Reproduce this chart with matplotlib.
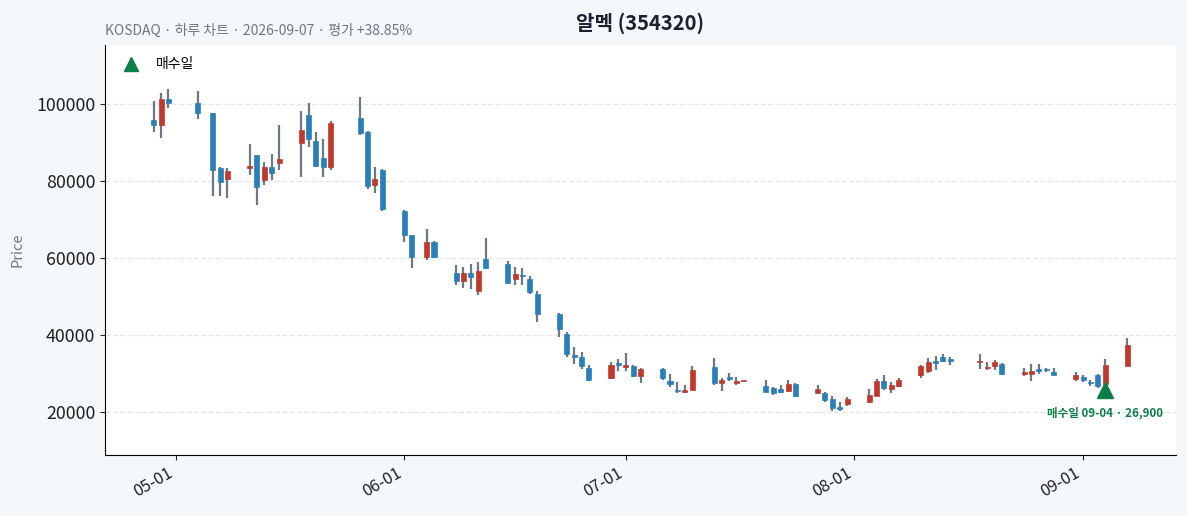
import matplotlib
matplotlib.use("Agg")
import matplotlib.pyplot as plt
import matplotlib.dates as mdates
from matplotlib.lines import Line2D
import numpy as np
import pandas as pd

plt.rcParams['font.family'] = ['Noto Sans CJK KR', 'DejaVu Sans']

dates = ["2026-04-28", "2026-04-29", "2026-04-30", "2026-05-04", "2026-05-06", "2026-05-07", "2026-05-08",
         "2026-05-11", "2026-05-12", "2026-05-13", "2026-05-14", "2026-05-15",
         "2026-05-18", "2026-05-19", "2026-05-20", "2026-05-21", "2026-05-22",
         "2026-05-26", "2026-05-27", "2026-05-28", "2026-05-29",
         "2026-06-01", "2026-06-02", "2026-06-04", "2026-06-05",
         "2026-06-08", "2026-06-09", "2026-06-10", "2026-06-11", "2026-06-12",
         "2026-06-15", "2026-06-16", "2026-06-17", "2026-06-18", "2026-06-19",
         "2026-06-22", "2026-06-23", "2026-06-24", "2026-06-25", "2026-06-26",
         "2026-06-29", "2026-06-30", "2026-07-01", "2026-07-02", "2026-07-03",
         "2026-07-06", "2026-07-07", "2026-07-08", "2026-07-09", "2026-07-10",
         "2026-07-13", "2026-07-14", "2026-07-15", "2026-07-16", "2026-07-17",
         "2026-07-20", "2026-07-21", "2026-07-22", "2026-07-23", "2026-07-24",
         "2026-07-27", "2026-07-28", "2026-07-29", "2026-07-30", "2026-07-31",
         "2026-08-03", "2026-08-04", "2026-08-05", "2026-08-06", "2026-08-07",
         "2026-08-10", "2026-08-11", "2026-08-12", "2026-08-13", "2026-08-14",
         "2026-08-18", "2026-08-19", "2026-08-20", "2026-08-21",
         "2026-08-24", "2026-08-25", "2026-08-26", "2026-08-27", "2026-08-28",
         "2026-08-31", "2026-09-01", "2026-09-02", "2026-09-03", "2026-09-04",
         "2026-09-07"]

opens = [95800, 94500, 101200, 100200, 97700, 83300, 80600,
         83500, 86750, 80200, 83560, 84600,
         89800, 97300, 90400, 85900, 83700,
         96500, 92700, 78900, 82860,
         72300, 66000, 60190, 64160,
         56110, 54110, 56110, 51540, 59670,
         58450, 54460, 55590, 54460, 50580,
         45470, 40270, 34740, 34210, 31360,
         28920, 32740, 31780, 31970, 29460,
         31280, 28140, 25830, 25320, 25650,
         31630, 27630, 29110, 27630, 27950,
         26760, 26240, 25990, 25570, 27290,
         24950, 24950, 23310, 21310, 22000,
         22690, 24270, 28000, 25990, 26850,
         29720, 30750, 33000, 34210, 33520,
         33000, 31440, 32050, 32570,
         29980, 29980, 31000, 31000, 30490,
         28660, 29110, 27800, 29720, 27200,
         31960]

highs = [100860, 102930, 103970, 103450, 97700, 83560, 83300,
         89530, 86900, 84860, 86940, 94470,
         98100, 100180, 92810, 90830, 95660,
         101740, 92900, 83560, 83120,
         72400, 66060, 67460, 64420,
         58110, 57590, 58450, 58970, 65120,
         59150, 57590, 57330, 55250, 51370,
         45650, 40790, 36820, 35520, 32140,
         33000, 33700, 35260, 32140, 31440,
         31440, 29890, 27800, 27020, 31970,
         33960, 28750, 30060, 29020, 28000,
         28230, 26500, 27020, 28230, 27630,
         26930, 25210, 24250, 22610, 23910,
         25900, 28580, 29540, 27710, 28750,
         32140, 33960, 34480, 35000, 34210,
         35090, 33000, 33520, 32740,
         31440, 32400, 32570, 31400, 31360,
         30320, 29630, 28400, 29980, 33700,
         39150]

lows = [92800, 91090, 98960, 96100, 76100, 76190, 75590,
        81560, 73690, 78890, 80270, 82780,
        80990, 88780, 83560, 80990, 82860,
        92030, 78000, 76810, 72290,
        64080, 57330, 59490, 59930,
        52940, 52140, 51860, 50400, 57150,
        53180, 52940, 52940, 50580, 43320,
        39410, 34210, 32480, 31100, 28010,
        28490, 30660, 30660, 29020, 27470,
        28230, 26450, 24900, 24900, 25650,
        27110, 25390, 28150, 27020, 27950,
        25290, 24360, 24950, 25210, 24010,
        24770, 22690, 20220, 20350, 21570,
        22350, 24270, 25730, 24860, 26420,
        28920, 30230, 30840, 32920, 32140,
        31110, 30840, 30840, 29720,
        29370, 28060, 29810, 30400, 29540,
        28140, 27890, 26850, 26190, 26590,
        31960]

closes = [94600, 101200, 100200, 97600, 82800, 79700, 82600,
          83800, 78500, 83600, 82000, 85740,
          93400, 91000, 84000, 83700, 95000,
          92550, 78700, 80470, 72810,
          66060, 60190, 64160, 60340,
          54110, 56110, 55000, 56630, 57330,
          53440, 55850, 55250, 51280, 45390,
          41650, 35000, 34210, 31880, 28400,
          32140, 32140, 32210, 29460, 31190,
          28860, 27360, 25410, 25830, 30920,
          27540, 28320, 28580, 28060, 28000,
          25290, 25040, 25210, 27290, 24270,
          25990, 23130, 21130, 20870, 23390,
          24350, 28060, 26330, 26930, 28230,
          31880, 33000, 32830, 33330, 33350,
          33260, 31700, 33000, 29980,
          30320, 30750, 30750, 30850, 29540,
          29630, 28320, 27470, 26670, 32210,
          37350]

buy_date = "2026-09-04"
buy_price = 26900
title = "알멕 (354320)"
subtitle = "KOSDAQ · 하루 차트 · 2026-09-07 · 평가 +38.85%"

UP = "#c0392b"
DOWN = "#2a7fba"
WICK = "#6c7886"
GREEN = "#0b7f4a"

df = pd.DataFrame({"date": pd.to_datetime(dates), "open": opens, "high": highs,
                   "low": lows, "close": closes})

fig = plt.figure(figsize=(11.87, 5.16), dpi=100, facecolor="#f5f8fb")
ax = fig.add_axes([0.0885, 0.1182, 0.9022, 0.7946])
ax.set_facecolor("white")

x = mdates.date2num(df["date"])
up = df["close"] >= df["open"]
colors = np.where(up, UP, DOWN)
body_lo = np.minimum(df["open"], df["close"])
body_h = np.maximum(np.abs(df["close"] - df["open"]), 300)

ax.vlines(x, df["low"], df["high"], color=WICK, linewidth=1.6, zorder=2)
ax.bar(x, body_h, bottom=body_lo, width=0.68, color=colors, edgecolor=colors,
       linewidth=0.5, zorder=3)

# buy marker
bi = df.index[df["date"] == pd.Timestamp(buy_date)][0]
bx = x[bi]
by = df["low"][bi] * 0.97
ax.plot([bx], [by], marker="^", color=GREEN, markersize=11, linestyle="none", zorder=5)
ax.annotate(f"매수일 {pd.Timestamp(buy_date):%m-%d} · {buy_price:,}", xy=(bx, by),
            xytext=(0, -12), textcoords="offset points", ha="center", va="top",
            fontsize=8.3, fontweight="bold", color=GREEN, zorder=6)

lo, hi = min(lows), max(highs)
rng = hi - lo
ax.set_ylim(lo - 0.136 * rng, hi + 0.136 * rng)
ax.set_xlim(x.min() - 6.6, x.max() + 6.6)

ax.set_yticks([20000, 40000, 60000, 80000, 100000])
ax.yaxis.set_major_formatter(matplotlib.ticker.FuncFormatter(lambda v, p: f"{int(v)}"))
ax.xaxis.set_major_locator(mdates.MonthLocator())
ax.xaxis.set_major_formatter(mdates.DateFormatter("%m-%d"))
for lab in ax.get_xticklabels():
    lab.set_rotation(30)
    lab.set_ha("right")
ax.tick_params(axis="x", labelsize=11.8, colors="#222222")
ax.tick_params(axis="y", labelsize=12.8, colors="#222222")

ax.grid(axis="y", linestyle="--", color="#e6e6e6", linewidth=1.0)
ax.set_axisbelow(True)
for s in ["top", "right"]:
    ax.spines[s].set_visible(False)

ax.set_ylabel("Price", color="#6c7886", fontsize=10.5, labelpad=8)
ax.set_title(title, fontsize=14.5, fontweight="bold", pad=11, color="#1a2233")
ax.text(0, 1.017, subtitle, transform=ax.transAxes, fontsize=10, color="#6c7886",
        ha="left", va="bottom")

handle = Line2D([], [], marker="^", color=GREEN, linestyle="none", markersize=10)
ax.legend([handle], ["매수일"], loc="upper left", frameon=False, fontsize=10,
          handletextpad=0.75)

fig.savefig("out.png", dpi=100, facecolor=fig.get_facecolor())
